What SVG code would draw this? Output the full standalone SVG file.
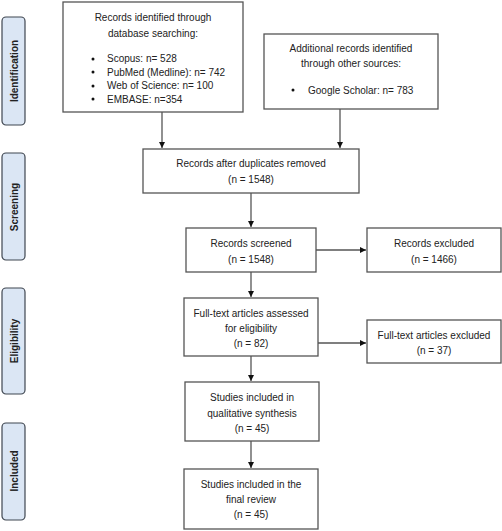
<svg xmlns="http://www.w3.org/2000/svg" width="502" height="531" viewBox="0 0 502 531">
<style>
.box{fill:#fff;stroke:#555;stroke-width:1.3}
.side{fill:#dbe6f4;stroke:#3f4650;stroke-width:1.2}
.t{font-family:"Liberation Sans",Arial,sans-serif;font-size:10px;fill:#222;text-anchor:middle}
.l{text-anchor:start}
.s{font-family:"Liberation Sans",Arial,sans-serif;font-size:10px;font-weight:bold;fill:#222;text-anchor:middle}
.c{stroke:#555;stroke-width:1.3;fill:none;marker-end:url(#ah)}
</style>
<defs>
<marker id="ah" markerWidth="8" markerHeight="8" refX="6" refY="3" orient="auto" markerUnits="userSpaceOnUse">
<path d="M0,0 L6,3 L0,6 Z" fill="#111"/>
</marker>
</defs>
<rect width="502" height="531" fill="#fff"/>
<g id="side-identification"><rect class="side" x="2" y="17" width="23" height="108" rx="4"/><text class="s" transform="translate(17.5,71) rotate(-90)">Identification</text></g>
<g id="side-screening"><rect class="side" x="2" y="153" width="23" height="107" rx="4"/><text class="s" transform="translate(17.5,207) rotate(-90)">Screening</text></g>
<g id="side-eligibility"><rect class="side" x="2" y="288" width="23" height="106" rx="4"/><text class="s" transform="translate(17.5,341) rotate(-90)">Eligibility</text></g>
<g id="side-included"><rect class="side" x="2" y="423" width="23" height="97" rx="4"/><text class="s" transform="translate(17.5,471) rotate(-90)">Included</text></g>

<g id="connectors">
<line class="c" x1="162" y1="112" x2="162" y2="148"/>
<line class="c" x1="340" y1="109" x2="340" y2="148"/>
<line class="c" x1="251" y1="193" x2="251" y2="227"/>
<line class="c" x1="316" y1="250" x2="366" y2="250"/>
<line class="c" x1="251" y1="272" x2="251" y2="297"/>
<line class="c" x1="318" y1="343" x2="366" y2="343"/>
<line class="c" x1="251" y1="356" x2="251" y2="381"/>
<line class="c" x1="251" y1="441" x2="251" y2="468"/>
</g>

<g id="db-search"><rect class="box" x="63" y="2" width="180" height="110"/>
<text class="t" x="153" y="21">Records identified through</text>
<text class="t" x="153" y="37">database searching:</text>
<circle cx="93" cy="59" r="1.5" fill="#111"/><text class="t l" x="107" y="62">Scopus: n= 528</text>
<circle cx="93" cy="72" r="1.5" fill="#111"/><text class="t l" x="107" y="75.5">PubMed (Medline): n= 742</text>
<circle cx="93" cy="86" r="1.5" fill="#111"/><text class="t l" x="107" y="89">Web of Science: n= 100</text>
<circle cx="93" cy="99" r="1.5" fill="#111"/><text class="t l" x="107" y="102.5">EMBASE: n=354</text>
</g>
<g id="other-sources"><rect class="box" x="264" y="34" width="174" height="75"/>
<text class="t" x="351" y="52">Additional records identified</text>
<text class="t" x="351" y="67">through other sources:</text>
<circle cx="293" cy="90" r="1.5" fill="#111"/><text class="t l" x="308" y="93.5">Google Scholar: n= 783</text>
</g>
<g id="duplicates-removed"><rect class="box" x="143" y="149" width="216" height="44"/>
<text class="t" x="251" y="167">Records after duplicates removed</text>
<text class="t" x="251" y="183">(n = 1548)</text>
</g>
<g id="records-screened"><rect class="box" x="186" y="228" width="130" height="44"/>
<text class="t" x="251" y="247">Records screened</text>
<text class="t" x="251" y="263">(n = 1548)</text>
</g>
<g id="records-excluded"><rect class="box" x="367" y="228" width="134" height="44"/>
<text class="t" x="434" y="247">Records excluded</text>
<text class="t" x="434" y="263">(n = 1466)</text>
</g>
<g id="fulltext-assessed"><rect class="box" x="184" y="298" width="134" height="58"/>
<text class="t" x="251" y="317">Full-text articles assessed</text>
<text class="t" x="251" y="332">for eligibility</text>
<text class="t" x="251" y="347">(n = 82)</text>
</g>
<g id="fulltext-excluded"><rect class="box" x="367" y="320" width="134" height="43"/>
<text class="t" x="434" y="339">Full-text articles excluded</text>
<text class="t" x="434" y="354">(n = 37)</text>
</g>
<g id="qualitative"><rect class="box" x="185" y="382" width="134" height="59"/>
<text class="t" x="252" y="401">Studies included in</text>
<text class="t" x="252" y="417">qualitative synthesis</text>
<text class="t" x="252" y="432">(n = 45)</text>
</g>
<g id="final-review"><rect class="box" x="184" y="469" width="134" height="60"/>
<text class="t" x="251" y="488">Studies included in the</text>
<text class="t" x="251" y="503">final review</text>
<text class="t" x="251" y="518">(n = 45)</text>
</g>
</svg>
